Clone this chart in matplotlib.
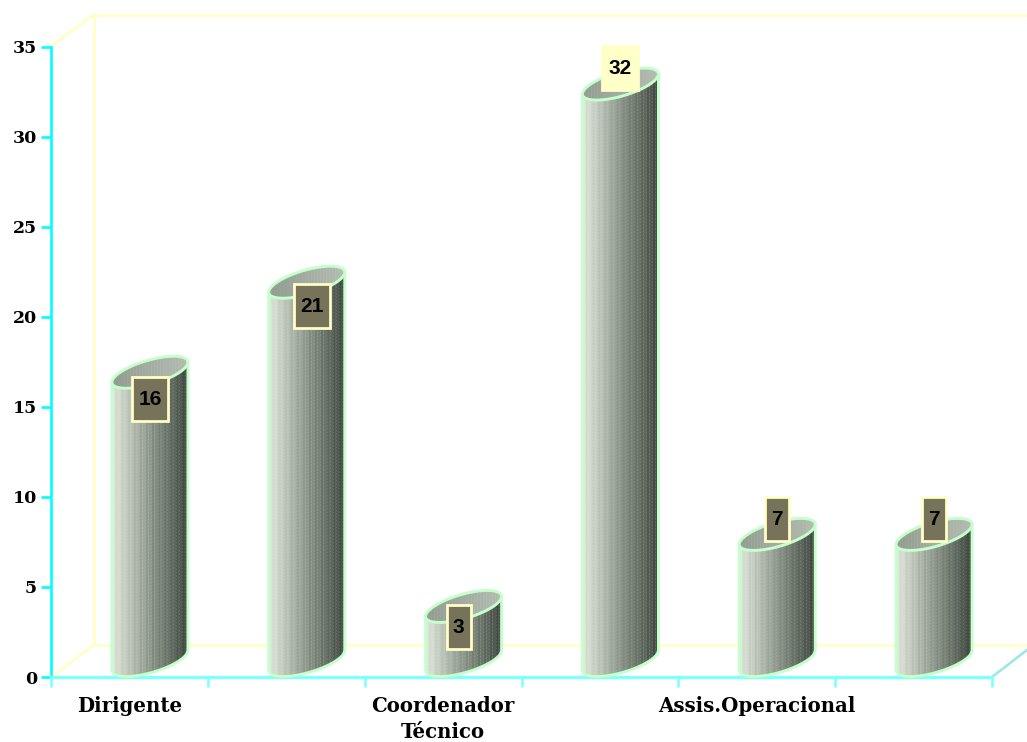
import numpy as np
import matplotlib
matplotlib.use("Agg")
import matplotlib.pyplot as plt
from matplotlib.collections import PolyCollection, LineCollection
from matplotlib.colors import LinearSegmentedColormap
from matplotlib.patches import Rectangle, Polygon

categories = ["Dirigente", "", "Coordenador\nTécnico", "", "Assis.Operacional", ""]
values = [16, 21, 3, 32, 7, 7]
y_ticks = [0, 5, 10, 15, 20, 25, 30, 35]

W, H = 1027, 742
fig = plt.figure(figsize=(W / 100, H / 100), dpi=100, facecolor="white")
L, R, B, T = 51, 992, 677, 46.5
ax = fig.add_axes([L / W, 1 - B / H, (R - L) / W, (B - T) / H])
ax.set_xlim(0, 6)
ax.set_ylim(0, 35)
ax.patch.set_visible(False)
PX = 6 / (R - L)
PY = 35 / (B - T)

YEL = "#ffffc8"
OUT = "#c4ffcc"
# back wall
DX, DY = 43 * PX, 32 * PY
xr = (W - L) * PX
for xs, ys in [([0, DX], [0, DY]), ([0, DX], [35, 35 + DY]), ([DX, DX], [DY, 35 + DY]),
               ([DX, xr], [DY, DY]), ([DX, xr], [35 + DY, 35 + DY])]:
    ax.plot(xs, ys, color=YEL, lw=2.0, clip_on=False, zorder=1, solid_capstyle="butt")
ax.plot([6, 6 + 35 * PX], [0, 27 * PY], color="#a0e6e6", lw=1.9, clip_on=False, zorder=1)

for s in ["top", "right"]:
    ax.spines[s].set_visible(False)
ax.spines["left"].set_color("#00ffff")
ax.spines["left"].set_linewidth(1.9)
ax.spines["bottom"].set_color("#80ffff")
ax.spines["bottom"].set_linewidth(2.4)
ax.spines["left"].set_zorder(2)
ax.spines["bottom"].set_zorder(2)

SERIF = dict(fontfamily="DejaVu Serif", fontweight="bold")
ax.set_yticks(y_ticks)
ax.set_xticks(np.arange(7))
ax.set_xticklabels([])
ax.tick_params(axis="y", colors="#00ffff", length=7, width=1.9, pad=3, labelcolor="black")
ax.tick_params(axis="x", colors="#80ffff", length=7.5, width=1.9)
for lab in ax.get_yticklabels():
    lab.set(**SERIF, fontsize=12.5)
ax.set_xticks(np.arange(6) + 0.5, labels=categories, minor=True)
ax.tick_params(axis="x", which="minor", length=0, pad=13.5, labelcolor="black")
for lab in ax.get_xticklabels(minor=True):
    lab.set(**SERIF, fontsize=14.2, linespacing=1.38)

cmap = LinearSegmentedColormap.from_list(
    "cyl", ["#dde5d9", "#bcc4b8", "#99a296", "#788275", "#596358", "#383f38"])
top_cmap = LinearSegmentedColormap.from_list("top", ["#929b90", "#b4bcb2"])
NS = 25
HALF, TILT, MINOR, SHIFT = 38, 10, 12.5, 20.5


def arc(s, sign):
    c = s / HALF
    return TILT * c + sign * MINOR * np.sqrt(np.clip(1 - c * c, 0, 1))


def ellipse(cx, cy):
    t = np.linspace(0, 2 * np.pi, 120)
    return np.c_[cx + HALF * np.cos(t) * PX,
                 cy + (TILT * np.cos(t) + MINOR * np.sin(t)) * PY]


for i, v in enumerate(values):
    cx = i + 0.5 + SHIFT * PX
    y0 = 16.5 * PY
    edges = np.linspace(-HALF, HALF, NS + 1)
    polys, cols, top_polys, top_cols, dots = [], [], [], [], []
    for k in range(NS):
        ss = np.linspace(edges[k], edges[k + 1], 5)
        low = arc(ss, -1) * PY
        up = arc(ss, 1) * PY
        xx = cx + ss * PX
        polys.append(np.r_[np.c_[xx, y0 + low], np.c_[xx[::-1], v + y0 + low[::-1]]])
        shade = cmap((k + 0.5) / NS)
        if k % 2 == 0:
            shade = tuple(min(1, c + 0.03) for c in shade[:3]) + (1,)
        cols.append(shade)
        top_polys.append(np.r_[np.c_[xx, v + y0 + low], np.c_[xx[::-1], v + y0 + up[::-1]]])
        top_cols.append(top_cmap((k + 0.5) / NS))
        dots.append([(xx[0], y0 + low[0]), (xx[0], v + y0 + low[0])])
    ax.add_collection(PolyCollection(polys, facecolors=cols, edgecolors=cols, linewidths=0.3,
                                     zorder=3, clip_on=False))
    ax.add_collection(LineCollection(dots[1:], colors="white", alpha=0.13, linewidths=0.8,
                                     linestyles=(0, (1.5, 1.5)), zorder=3.1, clip_on=False))
    ss = np.linspace(-HALF, HALF, 80)
    ol = np.r_[np.c_[cx + ss * PX, y0 + arc(ss, -1) * PY],
               [[cx + HALF * PX, v + y0 + arc(HALF, -1) * PY]],
               [[cx - HALF * PX, v + y0 + arc(-HALF, -1) * PY]]]
    ax.add_patch(Polygon(ol, closed=True, fill=False, ec=OUT, lw=2.1, zorder=4, clip_on=False,
                         joinstyle="round"))
    ax.add_collection(PolyCollection(top_polys, facecolors=top_cols, edgecolors=top_cols,
                                     linewidths=0.3, zorder=5, clip_on=False))
    ax.add_patch(Polygon(ellipse(cx, v + y0), closed=True, fill=False, ec=OUT, lw=2.1, zorder=5.1,
                         clip_on=False))

# value labels: pixel offset of the box centre from bar centre / value level
offsets = {0: (0, -10.5), 1: (5, -7.5), 2: (-5, -4.5), 3: (0, 33), 4: (0, 32), 5: (0, 32)}
for i, v in enumerate(values):
    ox, oy = offsets[i]
    cx = i + 0.5 + (SHIFT + ox) * PX
    cy = v + oy * PY
    w = (36 if v >= 10 else 24) * PX
    h = 44 * PY
    fc = "#ffffc8" if v == 32 else "#76735a"
    ax.add_patch(Rectangle((cx - w / 2, cy - h / 2), w, h, fc=fc, ec="#ffffc8", lw=2.0, zorder=6,
                           clip_on=False))
    ax.text(cx, cy - 0.5 * PY, str(v), ha="center", va="center", fontfamily="Liberation Sans",
            fontweight="bold", fontsize=15, color="black", zorder=7)

fig.savefig("out.png", dpi=100)
